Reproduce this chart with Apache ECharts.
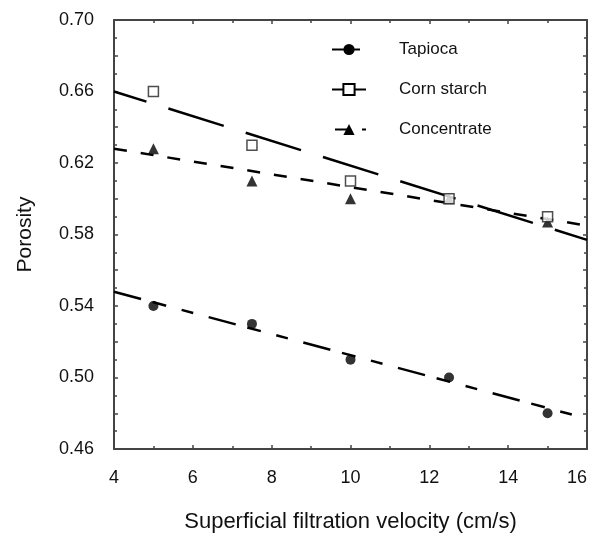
<!DOCTYPE html>
<html>
<head>
<meta charset="utf-8">
<script src="https://cdn.jsdelivr.net/npm/echarts@6/dist/echarts.min.js"></script>
<style>
html,body{margin:0;padding:0;background:#fff;}
#chart{width:595px;height:533px;}
</style>
</head>
<body>
<div id="chart"></div>
<script>
// Data
const velocity = [5, 7.5, 10, 12.5, 15];
const tapioca = [0.540, 0.530, 0.510, 0.500, 0.480];
const cornStarch = [0.660, 0.630, 0.610, 0.600, 0.590];
const concentrate = [0.628, 0.610, 0.600, 0.600, 0.587];
const fitX = [4, 16];
const tapiocaFit = [0.548, 0.477];
const cornFit = [0.660, 0.577];
const concentrateFit = [0.628, 0.585];
const yTickLabels = ['0.46','0.50','0.54','0.58','0.62','0.66','0.70'];
const seriesNames = ['Tapioca', 'Corn starch', 'Concentrate'];

const pairs = (xs, ys) => xs.map((x, i) => [x, ys[i]]);
const FONT = 'Liberation Sans, Arial, Helvetica, sans-serif';
const AX = '#444';

const chart = echarts.init(document.getElementById('chart'), null, {renderer: 'canvas'});

const baseX = {
  type: 'value', min: 4, max: 16, interval: 2,
  axisLine: {show: true, onZero: false, lineStyle: {color: AX, width: 2}},
  axisTick: {show: true, inside: true, length: 4, lineStyle: {color: AX, width: 1.5}},
  minorTick: {show: true, splitNumber: 2, length: 3, lineStyle: {color: AX, width: 1.5}},
  splitLine: {show: false}, minorSplitLine: {show: false}
};
const baseY = {
  type: 'value', min: 0.46, max: 0.70, interval: 0.02,
  axisLine: {show: true, onZero: false, lineStyle: {color: AX, width: 2}},
  axisTick: {show: true, inside: true, length: 4, lineStyle: {color: AX, width: 1.5}},
  minorTick: {show: true, splitNumber: 2, length: 3, lineStyle: {color: AX, width: 1.5}},
  splitLine: {show: false}, minorSplitLine: {show: false}
};

const option = {
  backgroundColor: '#fff',
  animation: false,
  textStyle: {fontFamily: FONT},
  grid: {left: 114, right: 8, top: 20, bottom: 84, containLabel: false, outerBoundsMode: 'none'},
  legend: {
    data: seriesNames,
    orient: 'vertical',
    left: 331, top: 41, padding: 0,
    itemWidth: 34, itemHeight: 14, itemGap: 23,
    textStyle: {fontFamily: FONT, fontSize: 17, color: '#111', padding: [0, 0, 0, 28]},
    selectedMode: false
  },
  xAxis: [
    Object.assign({}, baseX, {
      position: 'bottom',
      name: 'Superficial filtration velocity (cm/s)',
      nameLocation: 'middle', nameGap: 62,
      nameTextStyle: {fontFamily: FONT, fontSize: 22, color: '#111'},
      axisLabel: {show: true, margin: 20, fontFamily: FONT, fontSize: 18, color: '#111',
                  alignMaxLabel: 'right'}
    }),
    Object.assign({}, baseX, {position: 'top', axisLabel: {show: false}})
  ],
  yAxis: [
    Object.assign({}, baseY, {
      position: 'left',
      name: 'Porosity',
      nameLocation: 'middle', nameGap: 78,
      nameTextStyle: {fontFamily: FONT, fontSize: 21, color: '#111'},
      axisLabel: {
        show: true, margin: 20, fontFamily: FONT, fontSize: 18, color: '#111',
        formatter: function (v) {
          const s = v.toFixed(2);
          return yTickLabels.indexOf(s) >= 0 ? s : '';
        }
      }
    }),
    Object.assign({}, baseY, {position: 'right', axisLabel: {show: false}})
  ],
  series: [
    {
      name: 'Tapioca', type: 'line', data: pairs(fitX, tapiocaFit),
      symbol: 'circle', symbolSize: 10, showSymbol: false,
      itemStyle: {color: '#000'},
      lineStyle: {color: '#000', width: 2.5, type: [28, 12, 14, 16, 12, 16]},
      z: 2, silent: true
    },
    {
      name: 'Corn starch', type: 'line', data: pairs(fitX, cornFit),
      symbol: 'rect', symbolSize: 10, showSymbol: false,
      itemStyle: {color: '#fff', borderColor: '#000', borderWidth: 1.5},
      lineStyle: {color: '#000', width: 2.5, type: [58, 23], dashOffset: 24},
      z: 2, silent: true
    },
    {
      name: 'Concentrate', type: 'line', data: pairs(fitX, concentrateFit),
      symbol: 'triangle', symbolSize: 11, showSymbol: false,
      itemStyle: {color: '#000'},
      lineStyle: {color: '#000', width: 2.5, type: [13, 14]},
      z: 2, silent: true
    },
    {
      name: 'Tapioca data', type: 'scatter', data: pairs(velocity, tapioca),
      symbol: 'circle', symbolSize: 10,
      itemStyle: {color: '#000'}, z: 3, silent: true
    },
    {
      name: 'Corn starch data', type: 'scatter', data: pairs(velocity, cornStarch),
      symbol: 'rect', symbolSize: 10,
      itemStyle: {color: '#fff', borderColor: '#222', borderWidth: 1.5}, z: 4, silent: true
    },
    {
      name: 'Concentrate data', type: 'scatter', data: pairs(velocity, concentrate),
      symbol: 'triangle', symbolSize: 11,
      itemStyle: {color: '#000'}, z: 3, silent: true
    }
  ]
};
chart.setOption(option);
</script>
</body>
</html>
